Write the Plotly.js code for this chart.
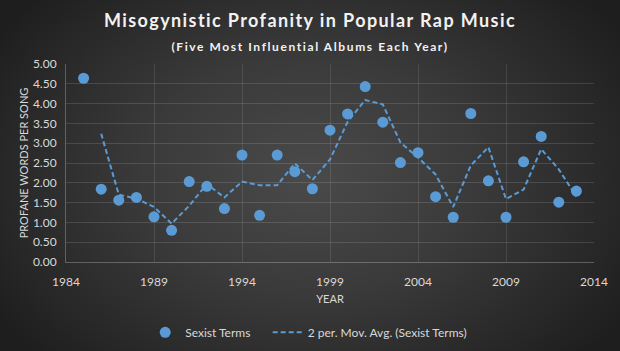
<!DOCTYPE html>
<html><head><meta charset="utf-8">
<script src="https://cdn.plot.ly/plotly-3.0.1.min.js"></script>
<style>
html,body{margin:0;padding:0;background:#2a2a2a;}
#chart{width:620px;height:351px;background:radial-gradient(ellipse 60% 75% at 50% 50%, #4a4a4a 0%, #3a3a3a 45%, #262626 85%, #1e1e1e 100%);}
</style></head>
<body><div id="chart"></div>
<script>
const years = [1985,1986,1987,1988,1989,1990,1991,1992,1993,1994,1995,1996,1997,1998,1999,2000,2001,2002,2003,2004,2005,2006,2007,2008,2009,2010,2011,2012,2013];
const sexistTerms = [4.64,1.84,1.56,1.63,1.14,0.80,2.03,1.91,1.35,2.70,1.18,2.70,2.28,1.85,3.33,3.74,4.43,3.53,2.51,2.76,1.65,1.13,3.75,2.05,1.13,2.53,3.17,1.51,1.79];
const maYears = [1986,1987,1988,1989,1990,1991,1992,1993,1994,1995,1996,1997,1998,1999,2000,2001,2002,2003,2004,2005,2006,2007,2008,2009,2010,2011,2012,2013];
const movAvg = [3.24,1.70,1.60,1.39,0.97,1.42,1.97,1.63,2.03,1.94,1.94,2.49,2.07,2.59,3.54,4.09,3.98,3.02,2.64,2.21,1.39,2.44,2.90,1.59,1.83,2.85,2.34,1.65];
const xTicks = [1984,1989,1994,1999,2004,2009,2014];
const yTicks = [0,0.5,1,1.5,2,2.5,3,3.5,4,4.5,5];

const blue = '#5b9bd5';
const font = 'Lato, "Open Sans", sans-serif';

const traces = [
  {x: years, y: sexistTerms, mode: 'markers', type: 'scatter', name: 'Sexist Terms\u00a0\u00a0\u00a0\u00a0',
   marker: {color: blue, size: 11, line: {width: 0}}},
  {x: maYears, y: movAvg, mode: 'lines', type: 'scatter', name: '2 per. Mov. Avg. (Sexist Terms)',
   line: {color: blue, width: 2, dash: '5px,3px'}}
];

const layout = {
  width: 620, height: 351,
  paper_bgcolor: 'rgba(0,0,0,0)', plot_bgcolor: 'rgba(0,0,0,0)',
  margin: {l: 66, r: 26, t: 64, b: 89, autoexpand: false},
  font: {family: font, color: '#d9d9d9', size: 11},
  title: {
    text: '<span style="letter-spacing:1.4px"><b>Misogynistic Profanity in Popular Rap Music</b></span><br><span style="font-size:12px;letter-spacing:1.6px"><b>(Five Most Influential Albums Each Year)</b></span>',
    font: {family: font, size: 18, color: '#f2f2f2'},
    x: 0.5, xanchor: 'center', y: 0.922, yanchor: 'middle'
  },
  xaxis: {
    range: [1984, 2014], tickvals: xTicks, ticktext: xTicks.map(String),
    showgrid: true, gridcolor: 'rgba(255,255,255,0.10)', gridwidth: 1,
    zeroline: false, showline: true, linecolor: 'rgba(255,255,255,0.25)',
    ticks: 'outside', ticklen: 9, tickcolor: 'rgba(0,0,0,0)', tickfont: {size: 12, color: '#d9d9d9'},
    title: {text: 'YEAR', font: {size: 11, color: '#d9d9d9'}, standoff: 6}
  },
  yaxis: {
    range: [0, 5], tickvals: yTicks, ticktext: yTicks.map(v => v.toFixed(2)),
    showgrid: true, gridcolor: 'rgba(255,255,255,0.13)', gridwidth: 1,
    zeroline: false, showline: true, linecolor: 'rgba(255,255,255,0.25)',
    ticks: 'outside', ticklen: 6, tickcolor: 'rgba(0,0,0,0)', tickfont: {size: 12, color: '#d9d9d9'},
    title: {text: 'PROFANE WORDS PER SONG', font: {size: 11, color: '#d9d9d9'}, standoff: 2}
  },
  showlegend: true,
  legend: {orientation: 'h', x: 0.15, xanchor: 'left', y: -0.355, yanchor: 'middle',
           font: {size: 12, color: '#d9d9d9'}, bgcolor: 'rgba(0,0,0,0)', itemwidth: 30, tracegroupgap: 0}
};

Plotly.newPlot('chart', traces, layout, {displayModeBar: false, staticPlot: true});
</script></body></html>
